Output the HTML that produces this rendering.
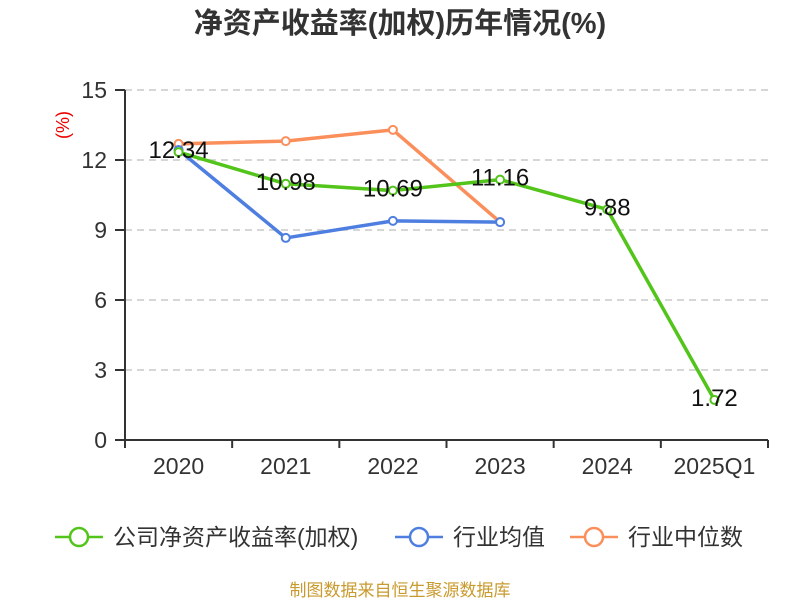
<!DOCTYPE html>
<html><head><meta charset="utf-8"><style>
body{margin:0;background:#fff;font-family:"Liberation Sans","Noto Sans CJK SC",sans-serif;}
</style></head><body>
<svg width="800" height="600" xmlns="http://www.w3.org/2000/svg" id="chart" font-family="Liberation Sans, Noto Sans CJK SC, sans-serif">
<text x="400" y="33" text-anchor="middle" font-size="29" font-weight="bold" fill="#333">净资产收益率(加权)历年情况(%)</text>
<text transform="translate(69,125) rotate(-90)" text-anchor="middle" font-size="18" fill="#e00">(%)</text>
<g id="grid"></g><g id="axes"></g><g id="series"></g><g id="labels"></g>
<g id="legend"></g>
<text x="400" y="596" text-anchor="middle" font-size="17" fill="#c99a2e">制图数据来自恒生聚源数据库</text>
</svg>
<script>
const categories=["2020","2021","2022","2023","2024","2025Q1"];
const yTicks=[0,3,6,9,12,15];
const companyVals=[12.34,10.98,10.69,11.16,9.88,1.72];
const avgVals=[12.43,8.66,9.39,9.34,null,null];
const medianVals=[12.69,12.81,13.29,9.34,null,null];
const NS="http://www.w3.org/2000/svg";
const x0=125,x1=768,yb=440,yt=90,band=(x1-x0)/categories.length;
const xs=i=>x0+band*(i+0.5);
const ys=v=>yb-(v/15)*(yb-yt);
function mk(t,a,p){const e=document.createElementNS(NS,t);for(const k in a)e.setAttribute(k,a[k]);document.getElementById(p).appendChild(e);return e;}
yTicks.forEach(v=>{
 if(v>0){const g=mk('line',{x1:x0,x2:x1,y1:ys(v),y2:ys(v),stroke:'#c8c8c8','stroke-dasharray':'7,5','stroke-width':1.5},'grid');
 
 }
 const tk=mk('line',{x1:115,x2:x0,y1:ys(v),y2:ys(v),stroke:'#333','stroke-width':2},'axes');
 
 
 const t=mk('text',{x:107,y:ys(v)+8,'text-anchor':'end','font-size':23,fill:'#333'},'axes');t.textContent=v;
 
 
});
const ya=mk('line',{x1:x0,x2:x0,y1:yt,y2:yb,stroke:'#333','stroke-width':2},'axes');


const xa=mk('line',{x1:x0,x2:x1,y1:yb,y2:yb,stroke:'#333','stroke-width':2},'axes');


for(let i=0;i<=categories.length;i++){const l=mk('line',{x1:x0+band*i,x2:x0+band*i,y1:yb,y2:yb+8,stroke:'#333','stroke-width':2},'axes');
 
 }
categories.forEach((c,i)=>{const t=mk('text',{x:xs(i),y:474,'text-anchor':'middle','font-size':23,fill:'#333'},'axes');t.textContent=c;
 
 });
function series(vals,color,name){
 const pts=vals.map((v,i)=>v==null?null:[xs(i),ys(v)]).filter(p=>p);
 const p=mk('polyline',{points:pts.map(p=>p.join(',')).join(' '),fill:'none',stroke:color,'stroke-width':3.5,'stroke-linejoin':'round'},'series');
 
 
 pts.forEach(q=>{const c=mk('circle',{cx:q[0],cy:q[1],r:4,fill:'#fff',stroke:color,'stroke-width':2},'series');
 
 });
}
series(medianVals,'#fa8f5c','median');
series(avgVals,'#4e7fe0','average');
series(companyVals,'#52c41a','company');
companyVals.forEach((v,i)=>{const t=mk('text',{x:xs(i),y:ys(v)+6,'text-anchor':'middle','font-size':24,fill:'#111'},'labels');t.textContent=v.toFixed(2);
 
 });
const leg=[["公司净资产收益率(加权)","#52c41a",55],["行业均值","#4e7fe0",395],["行业中位数","#fa8f5c",570]];
leg.forEach(([n,c,x])=>{
 const g=mk('g',{},'legend');
 
 
 const l=document.createElementNS(NS,'line');l.setAttribute('x1',x);l.setAttribute('x2',x+48);l.setAttribute('y1',537);l.setAttribute('y2',537);l.setAttribute('stroke',c);l.setAttribute('stroke-width',2.5);g.appendChild(l);
 const ci=document.createElementNS(NS,'circle');ci.setAttribute('cx',x+24);ci.setAttribute('cy',537);ci.setAttribute('r',9);ci.setAttribute('fill','#fff');ci.setAttribute('stroke',c);ci.setAttribute('stroke-width',2.5);g.appendChild(ci);
 const t=document.createElementNS(NS,'text');t.setAttribute('x',x+58);t.setAttribute('y',545);t.setAttribute('font-size',23);t.setAttribute('fill','#333');t.textContent=n;g.appendChild(t);
});
</script>
</body></html>
